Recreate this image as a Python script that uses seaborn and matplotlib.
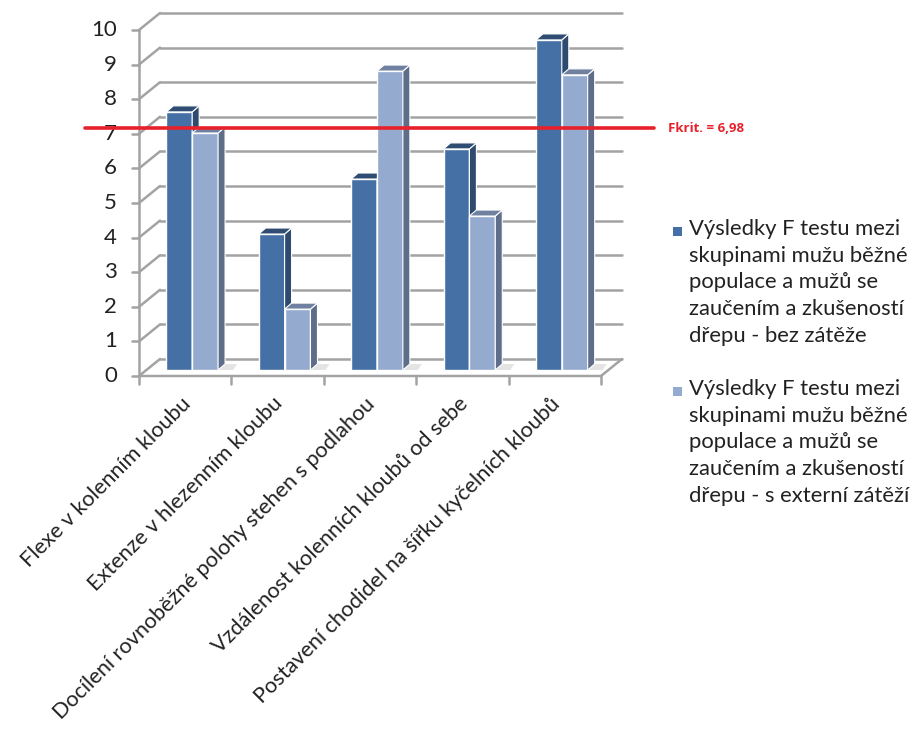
import pandas as pd
import matplotlib.pyplot as plt
import seaborn as sns
from matplotlib.patches import Polygon, Rectangle
from matplotlib.transforms import ScaledTranslation

sns.set_style('white')
plt.rcParams['font.family'] = ['Lato', 'DejaVu Sans']

# data
kategorie = ['Flexe v kolenním kloubu',
             'Extenze v hlezenním kloubu',
             'Docílení rovnoběžné polohy stehen s podlahou',
             'Vzdálenost kolenních kloubů od sebe',
             'Postavení chodidel na šířku kyčelních kloubů']
serie = ['Výsledky F testu mezi\nskupinami mužu běžné\npopulace a mužů se\nzaučením a zkušeností\ndřepu - bez zátěže',
         'Výsledky F testu mezi\nskupinami mužu běžné\npopulace a mužů se\nzaučením a zkušeností\ndřepu - s externí zátěží']
bez_zateze = [7.46, 3.93, 5.52, 6.39, 9.54]
s_zatezi = [6.85, 1.76, 8.64, 4.45, 8.53]
f_krit = 6.98
f_krit_text = 'Fkrit. = 6,98'
y_ticks = list(range(0, 11))

df = pd.DataFrame({
    'kategorie': kategorie * 2,
    'serie': [serie[0]] * 5 + [serie[1]] * 5,
    'F': bez_zateze + s_zatezi,
})

barvy = ['#4570a6', '#95aacf']
boky = ['#2e4a6e', '#5e6e8a']
vrchy = ['#2f4c72', '#6f80a0']
mrizka = '#a3a3a3'

fig = plt.figure(figsize=(9.19, 7.31), dpi=100)
ax = fig.add_axes([146 / 919, (731 - 370) / 731, 462 / 919, 346 / 731])
ax.set_xlim(-0.5, 4.5)
ax.set_ylim(0, 10)

# pixels per data unit
ppx = 462 / 5
ppy = 346 / 10


def off(x, y, px, py):
    return x + px / ppx, y + py / ppy


front = (-7, -6)
back = (14, 11)

# back wall gridlines + left wall diagonals
for v in y_ticks:
    x0, y0 = off(-0.5, v, *back)
    x1, y1 = off(4.5, v, *back)
    ax.plot([x0, x1], [y0, y1], color=mrizka, lw=1.8, clip_on=False, zorder=1)
    fx, fy = off(-0.5, v, *front)
    ax.plot([fx, x0], [fy, y0], color=mrizka, lw=1.8, clip_on=False, zorder=1)
    # small tick on the front axis
    ax.plot([fx - 7 / ppx, fx], [fy, fy], color=mrizka, lw=1.8, clip_on=False, zorder=1)
    ax.text(fx - 22 / ppx, fy, str(v), ha='right', va='center', fontsize=16, color='#222222')

# front axis vertical
fx0, fy0 = off(-0.5, 0, *front)
fx1, fy1 = off(-0.5, 10, *front)
ax.plot([fx0, fx1], [fy0, fy1], color=mrizka, lw=1.8, clip_on=False, zorder=1)

# floor
bx1, by1 = off(4.5, 0, *back)
ex1, ey1 = off(4.5, 0, *front)
ax.plot([fx0, ex1, bx1], [fy0, ey1, by1], color=mrizka, lw=1.8, clip_on=False, zorder=1)
for i in range(6):
    tx, ty = off(i - 0.5, 0, *front)
    ax.plot([tx, tx], [ty, ty - 8 / ppy], color=mrizka, lw=1.8, clip_on=False, zorder=1)

sns.barplot(data=df, x='kategorie', y='F', hue='serie', palette=barvy, saturation=1,
            width=0.56, edgecolor='white', linewidth=1, legend=False, ax=ax)
ax.set_xlim(-0.5, 4.5)
ax.set_ylim(0, 10)

# fake 3D: side and top faces
hx, hy = 7, 6
for i, cont in enumerate(ax.containers):
    for bar in cont:
        bar.set_zorder(3 + i)
        x0 = bar.get_x()
        x1 = x0 + bar.get_width()
        h = bar.get_height()
        # floor shadow
        sh = [(x1, 0), off(x1, 0, hx + 8, 0), off(x1, 0, hx + 12, hy), off(x1, 0, hx, hy)]
        ax.add_patch(Polygon(sh, closed=True, facecolor='#e4e4e4', edgecolor='none', zorder=2))
        side = [(x1, 0), off(x1, 0, hx, hy), off(x1, h, hx, hy), (x1, h)]
        top = [(x0, h), off(x0, h, hx, hy), off(x1, h, hx, hy), (x1, h)]
        ax.add_patch(Polygon(side, closed=True, facecolor=boky[i], edgecolor='white',
                             lw=0.8, zorder=3 + i + 0.5, clip_on=False))
        ax.add_patch(Polygon(top, closed=True, facecolor=vrchy[i], edgecolor='white',
                             lw=0.8, zorder=3 + i + 0.5, clip_on=False))

# critical value line
ax.axhline(f_krit, xmin=-0.132, xmax=1.10, color='#e8202a', lw=2.6, clip_on=False, zorder=10)
ax.text(1.13, f_krit, f_krit_text, transform=ax.get_yaxis_transform(), ha='left', va='center',
        fontsize=9.5, fontweight='bold', color='#e8202a', family=['Open Sans', 'DejaVu Sans'])

# x labels
ax.set_xticks(range(5))
ax.set_xticklabels(kategorie, rotation=45, ha='right', rotation_mode='anchor', fontsize=15.6,
                   color='#222222')
ax.tick_params(axis='x', length=0, pad=17)
shift = ScaledTranslation(-12 / 100, 0, fig.dpi_scale_trans)
for lab in ax.get_xticklabels():
    lab.set_transform(lab.get_transform() + shift)
ax.set_yticks([])
ax.set_xlabel('')
ax.set_ylabel('')
sns.despine(ax=ax, left=True, bottom=True)

# legend
leg_y = [232, 392]
for i, lab in enumerate(serie):
    fig.patches.append(Rectangle((673 / 919, 1 - (leg_y[i] + 4) / 731), 9 / 919, 9 / 731,
                                 transform=fig.transFigure, facecolor=barvy[i], edgecolor='none'))
    fig.text(689 / 919, 1 - (leg_y[i] - 13) / 731, lab, ha='left', va='top', fontsize=15.8,
             color='#222222', linespacing=1.42)

fig.savefig('out.png', dpi=100)
